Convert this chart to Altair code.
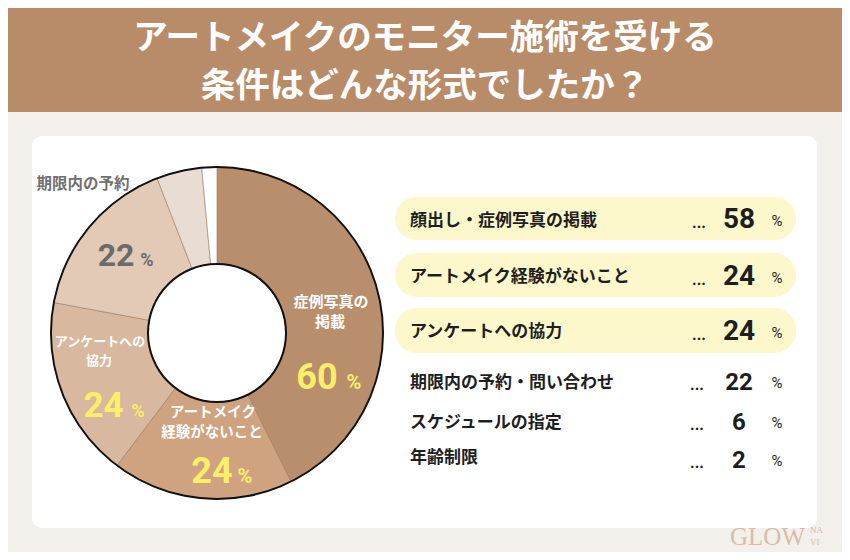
import altair as alt
import pandas as pd

# ---------------- data ----------------
title_lines = ["アートメイクのモニター施術を受ける", "条件はどんな形式でしたか？"]

slice_categories = ["症例写真の掲載", "アートメイク経験がないこと", "アンケートへの協力",
                    "期限内の予約", "スケジュールの指定", "年齢制限"]
slice_values = [58, 24, 24, 22, 6, 2]
slice_colors = ["#B98E6C", "#CFA37F", "#D8B89E", "#E2CAB6", "#E9DCD2", "#FFFFFF"]

slice_label_lines = [["症例写真の", "掲載"], ["アートメイク", "経験がないこと"],
                     ["アンケートへの", "協力"], ["期限内の予約"]]
slice_label_numbers = ["60", "24", "24", "22"]

list_labels = ["顔出し・症例写真の掲載", "アートメイク経験がないこと", "アンケートへの協力",
               "期限内の予約・問い合わせ", "スケジュールの指定", "年齢制限"]
list_values = [58, 24, 24, 22, 6, 2]
highlighted_rows = 3

logo_texts = ["GLOW", "NA", "VI"]

# ---------------- layout (reference pixel coords) ----------------
OFF = 8  # page margin
W, H = 834, 544


def px(v):
    return v - OFF


CX, CY = 217, 333
R_OUT, R_IN = 166, 69

label_pos = [[(331, 302), (330, 322)], [(213, 413), (212, 433)],
             [(100, 342), (99, 361)], [(83, 184)]]
label_fs = [15, 14.5, 13, 15.5]
label_col = ["#FFFFFF", "#FFFFFF", "#FFFFFF", "#707070"]

num_pos = [(317, 389), (212, 483), (103.5, 417), (116, 266)]
num_fs = [36, 36, 35, 32]
pct_pos = [(354, 389), (245, 483), (138, 417), (147, 266)]
pct_fs = [20, 20, 18, 18]
num_col = ["#FBEF6A", "#FBEF6A", "#FBEF6A", "#6B6B6B"]

row_label_y = [221, 277, 332, 383, 423, 458]
row_num_base = [228, 285, 340, 390, 430, 468]
row_num_fs = [28, 28, 28, 24, 24, 24]
pill_y1 = [197, 253, 308]
pill_y2 = [240, 297, 353]

XQ = lambda f: alt.X(f, type="quantitative", scale=None, axis=None)
YQ = lambda f: alt.Y(f, type="quantitative", scale=None, axis=None)
one = pd.DataFrame({"a": [0]})

# ---------------- decoration ----------------
banner = alt.Chart(one).mark_rect(color="#B88C69").encode(
    x=alt.value(0), x2=alt.value(W), y=alt.value(0), y2=alt.value(px(112)))

panel = alt.Chart(one).mark_rect(color="#FFFFFF", cornerRadius=10).encode(
    x=alt.value(px(32)), x2=alt.value(px(817)), y=alt.value(px(136)), y2=alt.value(px(528)))

pill_df = pd.DataFrame({
    "x1": [px(395)] * highlighted_rows, "x2": [px(796)] * highlighted_rows,
    "y1": [px(v) for v in pill_y1], "y2": [px(v) for v in pill_y2]})
pills = alt.Chart(pill_df).mark_rect(color="#FCF8CB", cornerRadius=22).encode(
    x=XQ("x1"), x2=alt.X2("x2"), y=YQ("y1"), y2=alt.Y2("y2"))

title_df = pd.DataFrame({"t": title_lines, "x": [px(425)] * 2, "y": [px(39), px(87)]})
title = alt.Chart(title_df).mark_text(
    font="Noto Sans CJK JP", fontWeight="bold", fontSize=34.5, color="#FFFFFF",
    align="center", baseline="middle").encode(x=XQ("x"), y=YQ("y"), text="t:N")

# ---------------- donut ----------------
donut_df = pd.DataFrame({"cat": slice_categories, "val": slice_values,
                         "idx": list(range(len(slice_values)))})
donut = alt.Chart(donut_df).mark_arc(
    radius=R_OUT, radius2=R_IN, stroke="#9A7C66", strokeWidth=0.6).encode(
    theta=alt.Theta("val:Q", stack=True),
    color=alt.Color("cat:N", scale=alt.Scale(domain=slice_categories, range=slice_colors),
                    legend=None),
    order=alt.Order("idx:Q"),
    x=alt.value(px(CX)), y=alt.value(px(CY)))

ring_out = alt.Chart(one).mark_arc(radius=R_OUT + 1, radius2=R_OUT - 1, theta=0,
                                   theta2=6.2832, color="#111111").encode(
    x=alt.value(px(CX)), y=alt.value(px(CY)))
ring_in = alt.Chart(one).mark_arc(radius=R_IN + 1, radius2=R_IN - 1, theta=0,
                                  theta2=6.2832, color="#111111").encode(
    x=alt.value(px(CX)), y=alt.value(px(CY)))

rows = []
for lines, poss, fs, col in zip(slice_label_lines, label_pos, label_fs, label_col):
    for t, (x, y) in zip(lines, poss):
        rows.append({"t": t, "x": px(x), "y": px(y), "fs": fs, "c": col})
slice_lab = alt.Chart(pd.DataFrame(rows)).mark_text(
    font="Noto Sans CJK JP", fontWeight="bold", align="center", baseline="middle").encode(
    x=XQ("x"), y=YQ("y"), text="t:N",
    size=alt.Size("fs:Q", scale=None), color=alt.Color("c:N", scale=None))

rows = []
for n, (x, y), fs, c in zip(slice_label_numbers, num_pos, num_fs, num_col):
    rows.append({"t": n, "x": px(x), "y": px(y), "fs": fs, "c": c})
for (x, y), fs, c in zip(pct_pos, pct_fs, num_col):
    rows.append({"t": "%", "x": px(x), "y": px(y), "fs": fs, "c": c})
slice_num = alt.Chart(pd.DataFrame(rows)).mark_text(
    font="Roboto", fontWeight="bold", align="center", baseline="alphabetic").encode(
    x=XQ("x"), y=YQ("y"), text="t:N",
    size=alt.Size("fs:Q", scale=None), color=alt.Color("c:N", scale=None))

# ---------------- list ----------------
list_df = pd.DataFrame({
    "label": list_labels, "val": [str(v) for v in list_values],
    "lx": [px(410)] * 6, "ly": [px(v) for v in row_label_y],
    "dx": [px(699)] * 3 + [px(697)] * 3,
    "nx": [px(739)] * 6, "ny": [px(v) for v in row_num_base], "nfs": row_num_fs,
    "px_": [px(777)] * 6, "py": [px(v - 2) for v in row_num_base]})

list_lab = alt.Chart(list_df).mark_text(
    font="Noto Sans CJK JP", fontWeight="bold", fontSize=17, color="#1E1E1E",
    align="left", baseline="middle").encode(x=XQ("lx"), y=YQ("ly"), text="label:N")

list_dots = alt.Chart(list_df).mark_text(
    font="Roboto", fontWeight="bold", fontSize=16, color="#1E1E1E",
    align="center", baseline="alphabetic", text="...").encode(x=XQ("dx"), y=YQ("ny"))

list_num = alt.Chart(list_df).mark_text(
    font="Roboto", fontWeight="bold", color="#1E1E1E",
    align="center", baseline="alphabetic").encode(
    x=XQ("nx"), y=YQ("ny"), text="val:N", size=alt.Size("nfs:Q", scale=None))

list_pct = alt.Chart(list_df).mark_text(
    font="Roboto", fontSize=15, color="#1E1E1E", align="center",
    baseline="alphabetic", text="%").encode(x=XQ("px_"), y=YQ("py"))

# ---------------- logo ----------------
logo_df = pd.DataFrame({"t": logo_texts, "x": [px(730), px(810), px(810)],
                        "y": [px(545), px(533), px(545)], "fs": [25, 9, 9]})
logo = alt.Chart(logo_df).mark_text(
    font="Liberation Serif", color="#D6BDA6", align="left", baseline="alphabetic").encode(
    x=XQ("x"), y=YQ("y"), text="t:N", size=alt.Size("fs:Q", scale=None))

chart = alt.layer(
    banner, panel, pills, title, donut, ring_out, ring_in, slice_lab, slice_num,
    list_lab, list_dots, list_num, list_pct, logo
).properties(
    width=W, height=H, padding=0, background="#F3EFEA",
    autosize=alt.AutoSizeParams(type="none")
).configure_view(stroke=None)

chart.save("out.html", embed_options={"renderer": "svg", "actions": False})
